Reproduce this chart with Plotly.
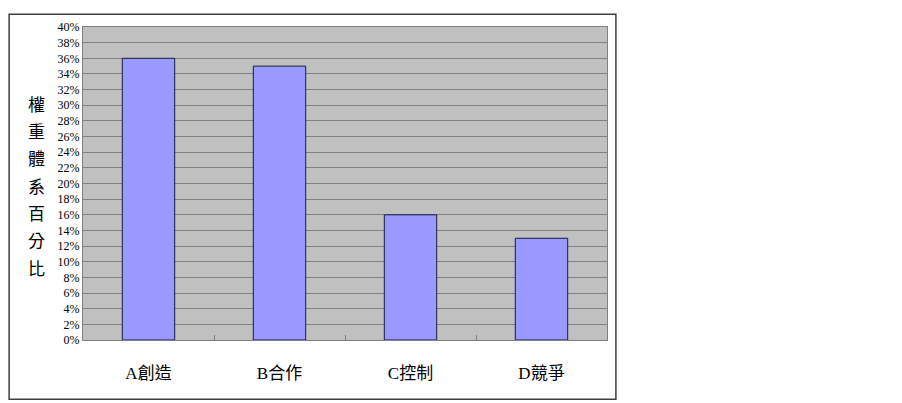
import plotly.graph_objects as go

categories = ["A創造", "B合作", "C控制", "D競爭"]
weights = [36, 35, 16, 13]
y_ticks = list(range(0, 41, 2))
y_title = "權重體系百分比"

fig = go.Figure()
fig.add_trace(go.Bar(
    x=categories, y=weights,
    marker=dict(color="#9999FF", line=dict(color="#1a1a40", width=1)),
    width=0.4,
))

# stacked vertical axis title, one char per annotation
n = len(y_title)
for i, ch in enumerate(y_title):
    fig.add_annotation(
        x=-0.088, xref="paper", xanchor="center",
        y=0.757 - i * (0.525 / (n - 1)), yref="paper", yanchor="middle",
        text=ch, showarrow=False,
        font=dict(family="Noto Sans CJK TC", size=17, color="black"),
    )

# outer chart border
fig.add_shape(type="rect", xref="paper", yref="paper",
              x0=-0.141, x1=1.017, y0=-0.189, y1=1.041,
              line=dict(color="#404040", width=1.5), fillcolor="rgba(0,0,0,0)",
              layer="below")

fig.update_layout(
    width=902, height=403,
    margin=dict(l=75, r=303, t=14, b=71),
    paper_bgcolor="white", plot_bgcolor="#C0C0C0",
    showlegend=False,
    xaxis=dict(
        type="category", tickson="boundaries", ticks="inside", ticklen=5,
        tickcolor="#808080", showgrid=False,
        showline=True, linecolor="#808080", mirror=True,
        tickfont=dict(family="Liberation Serif, Noto Sans CJK TC", size=17, color="black"),
        ticklabelstandoff=18,
    ),
    yaxis=dict(
        range=[0, 40], tickvals=y_ticks, ticktext=[f"{v}%" for v in y_ticks],
        showgrid=True, gridcolor="#808080", gridwidth=1,
        showline=True, linecolor="#808080", mirror=True,
        zeroline=False, ticks="",
        tickfont=dict(family="Liberation Serif", size=12, color="black"),
    ),
)

fig.write_html("out.html")
